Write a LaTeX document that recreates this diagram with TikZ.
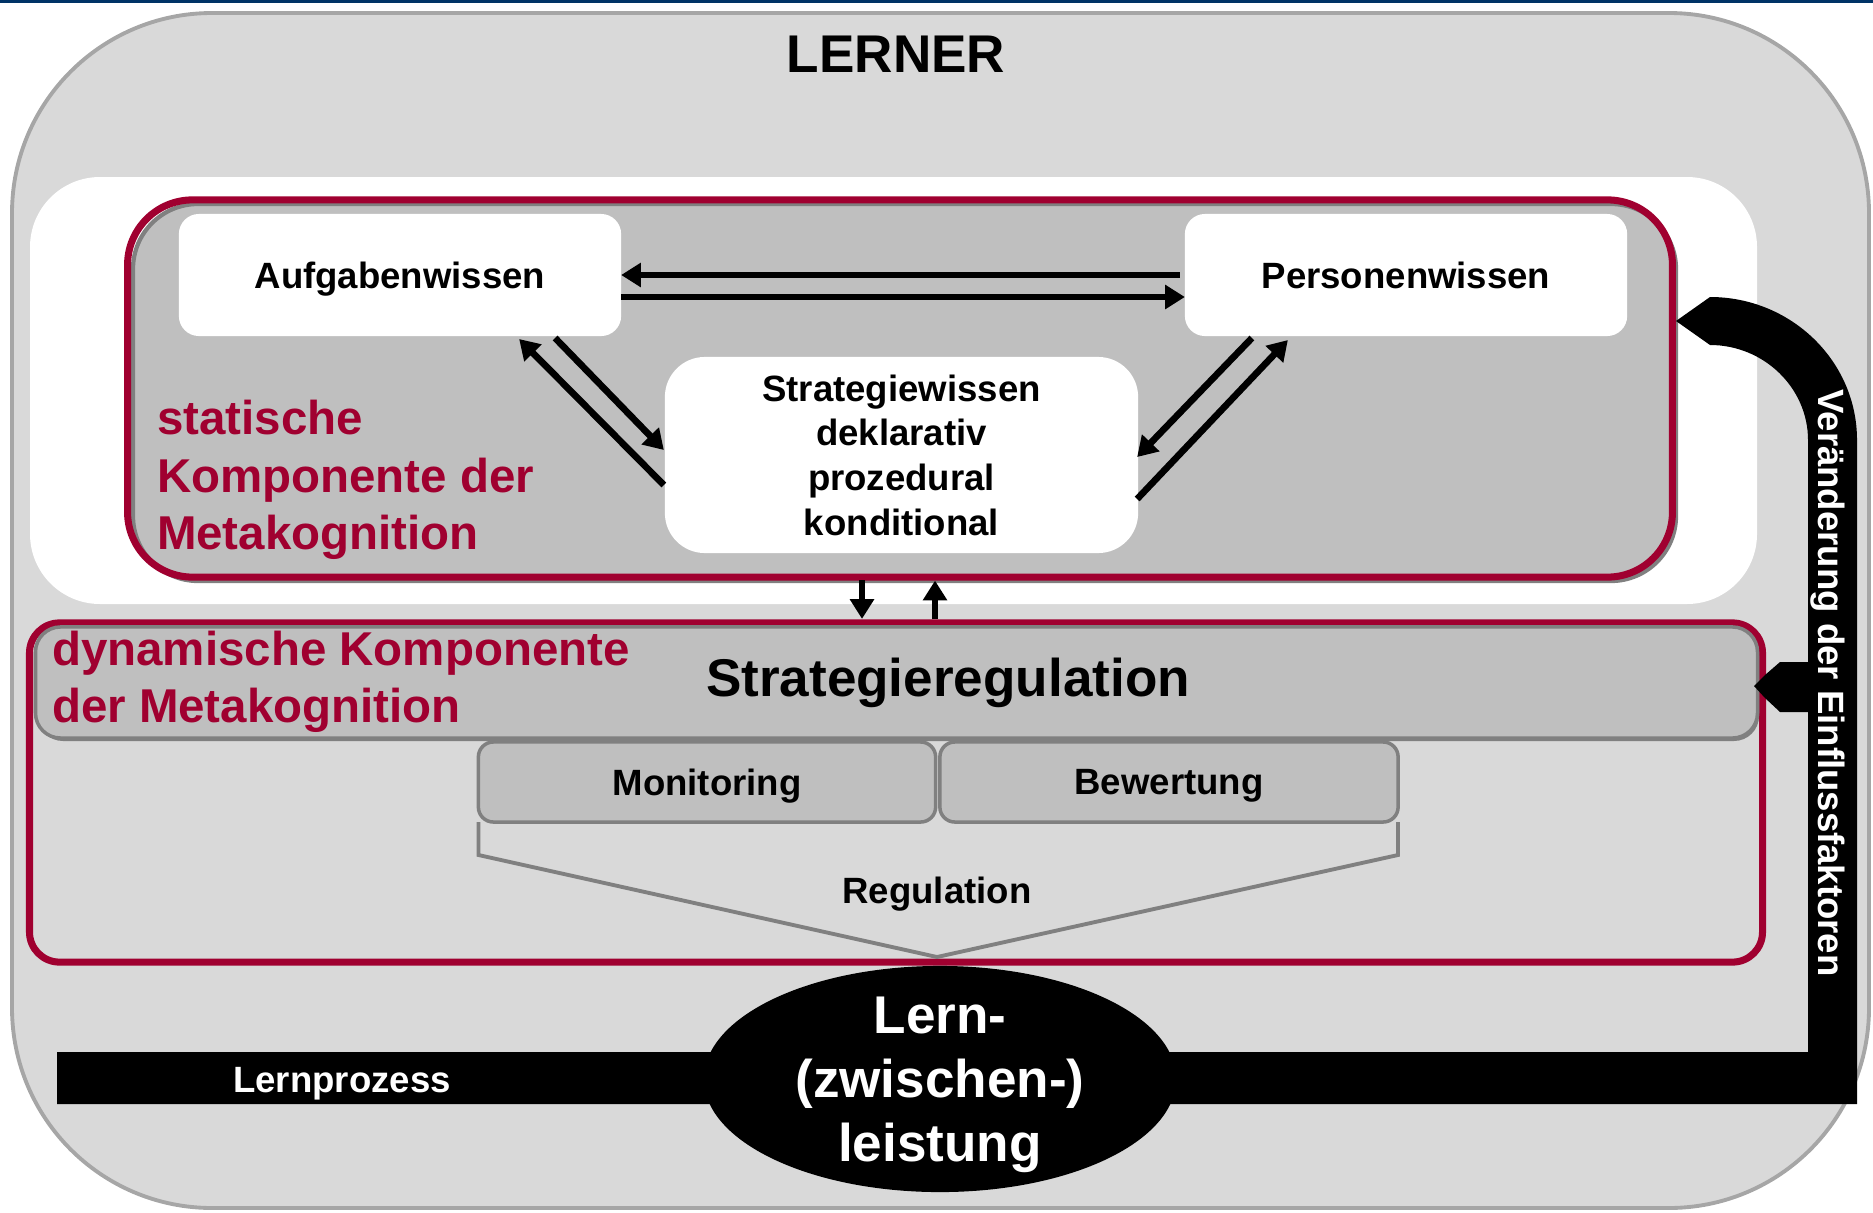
\documentclass[tikz,border=0pt]{standalone}
\usepackage{fontspec}
\setmainfont{Liberation Sans}
\usetikzlibrary{arrows.meta,shapes.geometric}
\definecolor{lrnred}{RGB}{160,0,48}
\definecolor{lrnbg}{RGB}{217,217,217}
\definecolor{lrnmid}{RGB}{191,191,191}
\definecolor{lrnedge}{RGB}{166,166,166}
\definecolor{lrnshade}{RGB}{128,128,128}
\definecolor{lrnblue}{RGB}{0,51,102}
\begin{document}
\begin{tikzpicture}[x=0.01cm,y=-0.01cm,
  every node/.style={inner sep=0pt,outer sep=0pt},
  txtnorm/.style={font=\fontsize{10.4}{12.7}\selectfont\bfseries,text depth=0pt},
  txtbig/.style={font=\fontsize{13.5}{16.3}\selectfont\bfseries,text depth=0pt},
  txthuge/.style={font=\fontsize{15.1}{18.2}\selectfont\bfseries,text depth=0pt},
  wbox/.style={fill=white,rounded corners=0.2cm,txtnorm},
  redbox/.style={draw=lrnred,line width=2pt,rounded corners=0.65cm},
  graybox/.style={draw=lrnshade,fill=lrnmid,line width=1pt,rounded corners=0.15cm},
  arr/.style={line width=1.9pt,-{Triangle[length=5.6pt,width=6.6pt]}}]
\useasboundingbox (0,0) rectangle (1873,1212);
\fill[lrnblue] (0,0) rectangle (1873,3);
\draw[fill=lrnbg,draw=lrnedge,line width=1.1pt,rounded corners=2cm] (12,13) rectangle (1869,1208);
\node[txthuge] (lerner) at (896,54) {LERNER};
\fill[white,rounded corners=0.7cm] (30,177) rectangle (1757,604);
\draw[lrnshade,fill=lrnmid,line width=1.2pt,rounded corners=0.65cm] (133,204) rectangle (1676,581);
\node[redbox,minimum width=15.44cm,minimum height=3.77cm] (static) at (900,388.5) {};
\node[txtbig,text=lrnred,anchor=west,align=left] (statlbl) at (157,475) {statische\\Komponente der\\Metakognition};
\node[wbox,minimum width=4.42cm,minimum height=1.22cm] (aufg) at (400,275) {Aufgabenwissen};
\node[wbox,minimum width=4.42cm,minimum height=1.22cm] (pers) at (1406,275) {Personenwissen};
\node[wbox,rounded corners=0.4cm,minimum width=4.73cm,minimum height=1.96cm,align=center] (strat) at (901.5,455) {Strategiewissen\\deklarativ\\prozedural\\konditional};
\draw[arr] ([shift={(-5,0)}]pers.west) -- (aufg.east);
\draw[arr] ([shift={(0,22)}]aufg.east) -- ([shift={(0,22)}]pers.west);
\draw[arr] ([shift={(-66,2)}]aufg.south east) -- ([shift={(-1,-5)}]strat.west);
\draw[arr] ([shift={(-1,30)}]strat.west) -- ([shift={(-102,3)}]aufg.south east);
\draw[arr] ([shift={(67,2)}]pers.south west) -- ([shift={(-1,2)}]strat.east);
\draw[arr] ([shift={(-1,44)}]strat.east) -- ([shift={(103,4)}]pers.south west);
\node[redbox,fill=lrnbg,rounded corners=0.3cm,minimum width=17.32cm,minimum height=3.39cm] (dyn) at (896,792.5) {};
\fill[lrnshade,rounded corners=0.25cm] (38,631) rectangle (1759,741);
\node[graybox,rounded corners=0.25cm,minimum width=17.21cm,minimum height=1.11cm] (band) at (896.5,682.5) {};
\node[txthuge] (sreg) at (948,677) {Strategieregulation};
\node[txtbig,text=lrnred,anchor=west,align=left] (dynlbl) at (52,677) {dynamische Komponente\\der Metakognition};
\coordinate (regtip) at (937,957);
\draw[lrnshade,line width=1.1pt] (478.5,822) -- ++(0,33) -- (regtip) -- (1398,855) -- ++(0,-33);
\node[graybox,txtnorm,minimum width=4.57cm,minimum height=0.8cm] (mon) at (707,782) {Monitoring};
\node[graybox,txtnorm,minimum width=4.58cm,minimum height=0.8cm] (bew) at (1169,782) {Bewertung};
\node[txtnorm] (reg) at (937,890) {Regulation};
\draw[arr] ([shift={(-38,3)}]static.south) -- ([shift={(-34,-4)}]dyn.north);
\draw[arr] ([shift={(39,-3.5)}]dyn.north) -- ([shift={(35,3.5)}]static.south);
\fill (57,1052) -- (1808,1052) -- (1808,712) -- (1780,712) -- (1765,698) -- (1754,686)
  -- (1765,675) -- (1780,662) -- (1808,662) -- (1808,440)
  .. controls (1808,388) and (1764,345) .. (1710,345) -- (1676,321) -- (1710,297)
  .. controls (1791,297) and (1857,361) .. (1857,440) -- (1857,1104) -- (57,1104) -- cycle;
\node[txtnorm,text=white] (lprz) at (342,1080) {Lernprozess};
\node[ellipse,fill=black,minimum width=4.72cm,minimum height=2.26cm] (lern) at (940,1079) {};
\node[txthuge,text=white,align=center] (lerntxt) at (lern.center) {Lern-\\(zwischen-)\\leistung};
\node[txtnorm,text=white,rotate=-90] (einfl) at (1832,683) {Veränderung der Einflussfaktoren};
\end{tikzpicture}
\end{document}
